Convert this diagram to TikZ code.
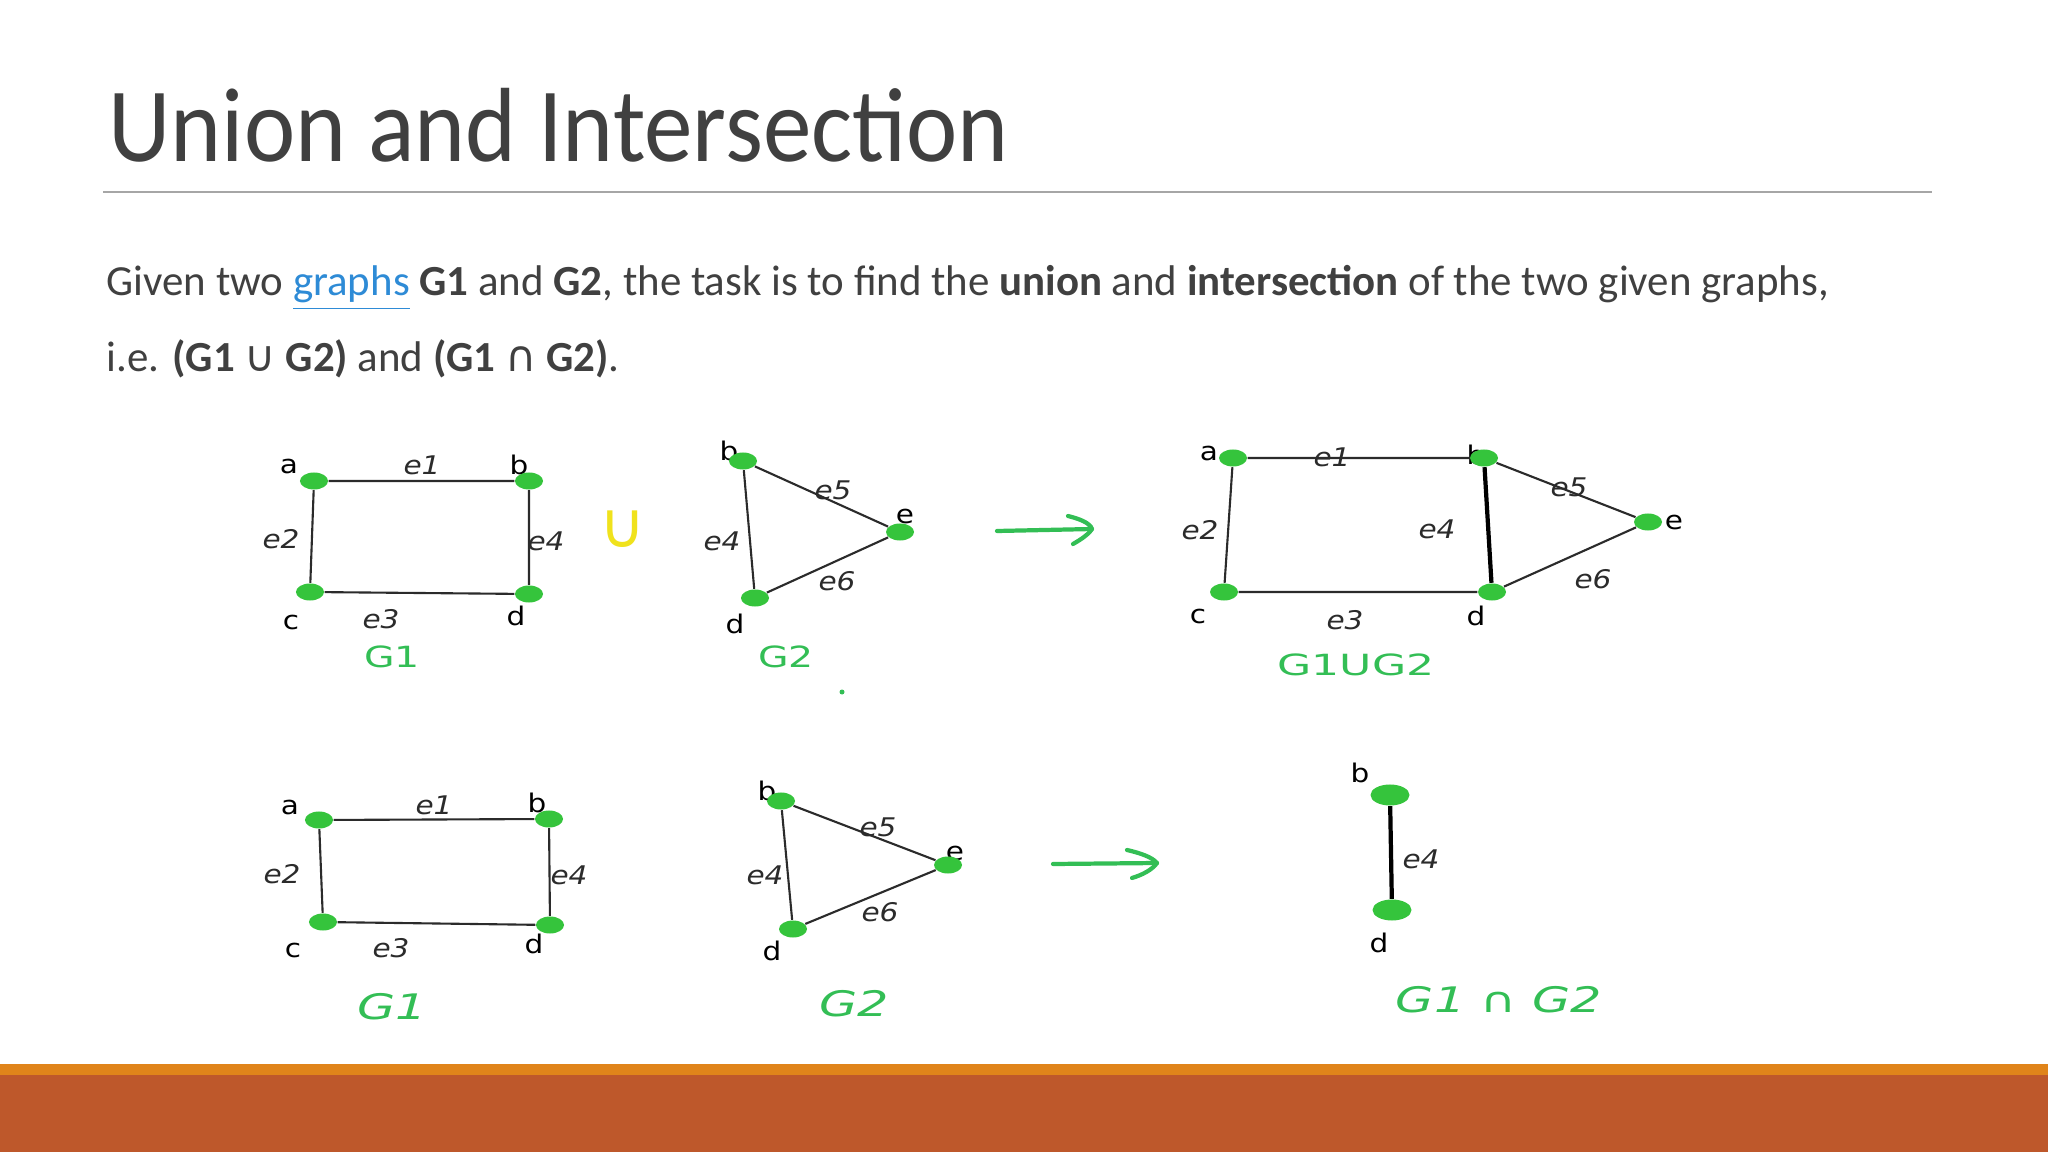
\documentclass[tikz,border=0pt]{standalone}
\usepackage{fontspec}
\setmainfont{Carlito}
\newfontfamily\lblfont{DejaVu Sans}
\newfontfamily\symfont{DejaVu Sans}
\usetikzlibrary{shapes.geometric, arrows.meta, positioning}
\definecolor{slideink}{HTML}{404040}
\definecolor{slideline}{HTML}{A6A6A6}
\definecolor{linkblue}{HTML}{2E8BD6}
\definecolor{vertgreen}{HTML}{35C43C}
\definecolor{capgreen}{HTML}{33BE55}
\definecolor{cupyellow}{HTML}{F0E21C}
\definecolor{bandorange}{HTML}{E0841A}
\definecolor{bandrust}{HTML}{BE582B}
\definecolor{edgeink}{HTML}{2B2B2B}

\begin{document}
\begin{tikzpicture}[x=0.01cm, y=-0.01cm,
        vertex/.style={ellipse, fill=vertgreen, inner sep=0pt, minimum width=0.28cm, minimum height=0.17cm},
        bigvertex/.style={vertex, minimum width=0.39cm, minimum height=0.21cm},
        vlabel/.style={font=\lblfont\fontsize{7.3}{8}\selectfont, text=black, inner sep=0pt, xscale=1.15},
        elabel/.style={font=\lblfont\itshape\fontsize{7.3}{8}\selectfont, text=edgeink, inner sep=0pt, xscale=1.15},
        gcap/.style={font=\lblfont\fontsize{8.3}{9}\selectfont, text=capgreen, inner sep=0pt, xscale=1.35},
        igcap/.style={font=\lblfont\itshape\fontsize{10}{11}\selectfont, text=capgreen, inner sep=0pt, xscale=1.4},
        grline/.style={draw=edgeink, line width=0.6pt},
        thickline/.style={draw=black, line width=1.2pt},
        sketcharrow/.style={draw=capgreen, line width=1.2pt, line cap=round, line join=round},
        bodytext/.style={anchor=base west, inner sep=0pt, text=slideink, font=\fontsize{12.2}{15}\selectfont}
    ]
    \fill[white] (0,0) rectangle (2048,1152);
    \useasboundingbox (0,0) rectangle (2048,1152);

    \node (title) [anchor=base west, inner sep=0pt, text=slideink, font=\fontsize{30}{36}\selectfont, xscale=0.92] at (108,162) {Union and Intersection};
    \draw[slideline, line width=0.5pt] (103,192) -- (1932,192);
    \node (line1) [bodytext] at (106,296) {Given two \textcolor{linkblue}{\underline{graphs}} \textbf{G1} and \textbf{G2}, the task is to find the \textbf{union} and \textbf{intersection} of the two given graphs,};
    \node (line2) [bodytext] at (106,372) {i.e. \textbf{(G1 {\symfont\mdseries ∪} G2)} and \textbf{(G1 {\symfont\mdseries ∩} G2)}.};

    \node (s1la) [vlabel] at (289,466) {a};
    \node (s1lb) [vlabel] at (519,465) {b};
    \node (s1lc) [vlabel] at (291,622) {c};
    \node (s1ld) [vlabel] at (516,616) {d};
    \node (s1a) [vertex] at (314,481) {};
    \node (s1b) [vertex] at (529,481) {};
    \node (s1c) [vertex] at (310,592) {};
    \node (s1d) [vertex] at (529,594) {};
    \draw[grline] (s1a) -- (s1b) -- (s1d) -- (s1c) -- (s1a);
    \node (s1e1) [elabel] at (422,465) {e1};
    \node (s1e2) [elabel] at (281,539) {e2};
    \node (s1e4) [elabel] at (546,541) {e4};
    \node (s1e3) [elabel] at (381,619) {e3};
    \node (s1cap) [gcap] at (392,657) {G1};

    \node (unionsym) [font=\lblfont\fontsize{18}{20}\selectfont, text=cupyellow, inner sep=0pt] at (623,529) {∪};

    \node (t1lb) [vlabel] at (729,451) {b};
    \node (t1le) [vlabel] at (905,516) {e};
    \node (t1ld) [vlabel] at (735,624) {d};
    \node (t1b) [vertex] at (743,461) {};
    \node (t1e) [vertex] at (900,532) {};
    \node (t1d) [vertex] at (755,598) {};
    \draw[grline] (t1b) -- (t1e) -- (t1d) -- (t1b);
    \node (t1e5) [elabel] at (833,490) {e5};
    \node (t1e4) [elabel] at (722,541) {e4};
    \node (t1e6) [elabel] at (837,581) {e6};
    \node (t1cap) [gcap] at (786,657) {G2};
    \fill[capgreen] (842,692) circle[radius=0.025cm];

    \coordinate (arrowAtail) at (997,531);
    \coordinate (arrowAtip) at (1092,529);
    \draw[sketcharrow] (arrowAtail) -- (arrowAtip);
    \draw[sketcharrow] (1068,516) .. controls (1080,519) and (1090,523) .. (arrowAtip) .. controls (1088,535) and (1080,540) .. (1073,544);

    \node (ula) [vlabel] at (1209,453) {a};
    \node (ulb) [vlabel] at (1476,455) {b};
    \node (ulc) [vlabel] at (1198,616) {c};
    \node (uld) [vlabel] at (1476,616) {d};
    \node (ule) [vlabel] at (1674,522) {e};
    \node (ue1) [elabel] at (1332,457) {e1};
    \node (ue5) [elabel] at (1569,487) {e5};
    \node (ua) [vertex] at (1233,458) {};
    \node (ub) [vertex] at (1484,458) {};
    \node (uc) [vertex] at (1224,592) {};
    \node (ud) [vertex] at (1492,592) {};
    \node (ue) [vertex] at (1648,522) {};
    \draw[grline] (ud) -- (uc) -- (ua) -- (ub) -- (ue) -- (ud);
    \draw[thickline] (ub) -- (ud);
    \node (ue2) [elabel] at (1200,530) {e2};
    \node (ue4) [elabel] at (1437,529) {e4};
    \node (ue3) [elabel] at (1345,620) {e3};
    \node (ue6) [elabel] at (1593,579) {e6};
    \node (ucap) [gcap, xscale=1.12] at (1356,665) {G1UG2};

    \node (s2la) [vlabel] at (290,807) {a};
    \node (s2lb) [vlabel] at (537,803) {b};
    \node (s2lc) [vlabel] at (293,950) {c};
    \node (s2ld) [vlabel] at (534,944) {d};
    \node (s2a) [vertex] at (319,820) {};
    \node (s2b) [vertex] at (549,819) {};
    \node (s2c) [vertex] at (323,922) {};
    \node (s2d) [vertex] at (550,925) {};
    \draw[grline] (s2a) -- (s2b) -- (s2d) -- (s2c) -- (s2a);
    \node (s2e1) [elabel] at (434,805) {e1};
    \node (s2e2) [elabel] at (282,874) {e2};
    \node (s2e4) [elabel] at (569,875) {e4};
    \node (s2e3) [elabel] at (391,948) {e3};
    \node (s2cap) [igcap] at (392,1007) {G1};

    \node (t2lb) [vlabel] at (767,791) {b};
    \node (t2le) [vlabel] at (955,853) {e};
    \node (t2ld) [vlabel] at (772,951) {d};
    \node (t2b) [vertex] at (781,801) {};
    \node (t2e) [vertex] at (948,865) {};
    \node (t2d) [vertex] at (793,929) {};
    \draw[grline] (t2b) -- (t2e) -- (t2d) -- (t2b);
    \node (t2e5) [elabel] at (878,827) {e5};
    \node (t2e4) [elabel] at (765,875) {e4};
    \node (t2e6) [elabel] at (880,912) {e6};
    \node (t2cap) [igcap] at (854,1004) {G2};

    \coordinate (arrowBtail) at (1053,864);
    \coordinate (arrowBtip) at (1157,863);
    \draw[sketcharrow] (arrowBtail) -- (arrowBtip);
    \draw[sketcharrow] (1127,850) .. controls (1140,853) and (1152,857) .. (arrowBtip) .. controls (1152,870) and (1142,875) .. (1132,878);

    \node (ilb) [vlabel] at (1360,773) {b};
    \node (ild) [vlabel] at (1379,943) {d};
    \node (ib) [bigvertex] at (1390,795) {};
    \node (id) [bigvertex] at (1392,910) {};
    \draw[thickline] (ib) -- (id);
    \node (ie4) [elabel] at (1421,859) {e4};
    \node (icap) [igcap] at (1499,1000) {G1 ∩ G2};

    \fill[bandorange] (0,1064) rectangle (2048,1075);
    \fill[bandrust] (0,1075) rectangle (2048,1152);
\end{tikzpicture}
\end{document}
